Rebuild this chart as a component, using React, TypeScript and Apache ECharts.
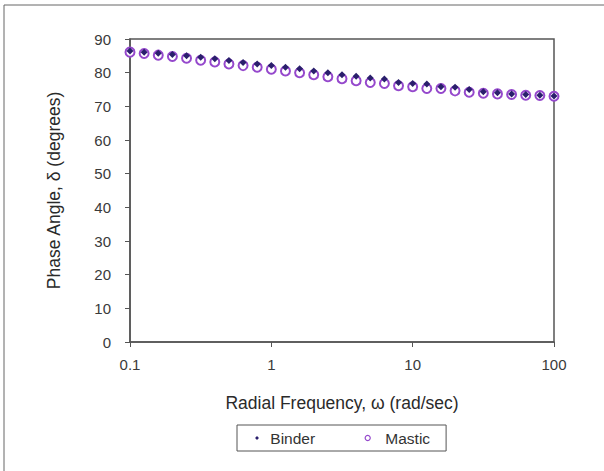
import React, { useEffect, useRef } from "react";
import * as echarts from "echarts";

const frequencies: number[] = [
  0.1, 0.1259, 0.1585, 0.1995, 0.2512, 0.3162, 0.3981, 0.5012, 0.631, 0.7943,
  1, 1.259, 1.585, 1.995, 2.512, 3.162, 3.981, 5.012, 6.31, 7.943,
  10, 12.59, 15.85, 19.95, 25.12, 31.62, 39.81, 50.12, 63.1, 79.43, 100,
];

const binderPhase: number[] = [
  86.4, 86.1, 85.8, 85.4, 85.0, 84.6, 84.1, 83.6, 83.0, 82.6,
  82.1, 81.6, 81.2, 80.5, 80.0, 79.4, 78.9, 78.4, 78.1, 77.1,
  76.8, 76.6, 75.8, 75.7, 75.0, 74.3, 74.0, 73.7, 73.5, 73.3, 73.1,
];

const masticPhase: number[] = [
  86.1, 85.7, 85.2, 84.8, 84.3, 83.7, 83.2, 82.6, 82.1, 81.6,
  81.0, 80.5, 80.0, 79.4, 78.8, 78.2, 77.6, 77.1, 76.8, 76.1,
  75.8, 75.3, 75.3, 74.6, 74.2, 73.9, 73.7, 73.5, 73.3, 73.2, 73.0,
];

const seriesNames = ["Binder", "Mastic"];
const xAxisTitle = "Radial Frequency, ω (rad/sec)";
const yAxisTitle = "Phase Angle, δ (degrees)";

export default function App() {
  const ref = useRef<HTMLDivElement>(null);
  useEffect(() => {
    if (!ref.current) return;
    const chart = echarts.init(ref.current, null, { renderer: "svg" });
    const font = "Liberation Sans, Arial, sans-serif";
    const axisColor = "#555555";
    const binderColor = "#2a1f6c";
    const masticColor = "#9548cc";
    const smallDiamond = "path://M0,0 M10,10 M5,2.6 L7.4,5 L5,7.4 L2.6,5 Z";
    const smallRing = "path://M0,0 M10,10 M5,1.8 A3.2,3.2 0 1 1 4.99,1.8 Z";
    chart.setOption({
      animation: false,
      backgroundColor: "#ffffff",
      textStyle: { fontFamily: font },
      graphic: [
        {
          type: "rect",
          shape: { x: 4, y: 5, width: 800, height: 800 },
          style: { fill: "none", stroke: "#666666", lineWidth: 1 },
          silent: true,
        },
      ],
      grid: {
        left: 130,
        right: 50,
        top: 39,
        bottom: 129,
        show: true,
        borderColor: axisColor,
        borderWidth: 1.5,
        backgroundColor: "transparent",
      },
      legend: {
        data: [
          { name: seriesNames[0], icon: smallDiamond, itemStyle: { color: binderColor, opacity: 1 } },
          { name: seriesNames[1], icon: smallRing, itemStyle: { color: "#ffffff", borderColor: masticColor, borderWidth: 1.2, opacity: 1 } },
        ],
        left: 237,
        top: 425,
        padding: [5, 16, 5, 16],
        itemGap: 48,
        itemWidth: 8,
        itemHeight: 8,
        borderColor: "#555555",
        borderWidth: 1,
        formatter: (name: string) => (name === seriesNames[0] ? " " + name : "  " + name),
        textStyle: { fontSize: 15.5, color: "#333333", fontFamily: font },
      },
      xAxis: {
        type: "log",
        logBase: 10,
        min: 0.1,
        max: 100,
        name: xAxisTitle,
        nameLocation: "middle",
        nameGap: 52,
        nameTextStyle: { fontSize: 17.5, color: "#2a2a2a", fontFamily: font },
        axisLine: { show: true, lineStyle: { color: axisColor, width: 1.5 } },
        axisTick: { show: true, inside: false, length: 5, lineStyle: { color: axisColor } },
        minorTick: { show: false },
        splitLine: { show: false },
        axisLabel: {
          fontSize: 15,
          color: "#3a3a3a",
          margin: 15,
          fontFamily: font,
          formatter: (v: number) => (v < 1 ? String(Math.round(v * 10) / 10) : String(Math.round(v))),
        },
      },
      yAxis: {
        type: "value",
        min: 0,
        max: 90,
        interval: 10,
        name: yAxisTitle,
        nameLocation: "middle",
        nameRotate: 90,
        nameGap: 67,
        nameTextStyle: { fontSize: 17.5, color: "#2a2a2a", fontFamily: font },
        axisLine: { show: true, lineStyle: { color: axisColor, width: 1.5 } },
        axisTick: { show: true, inside: false, length: 5, lineStyle: { color: axisColor } },
        splitLine: { show: false },
        axisLabel: { fontSize: 15, color: "#3a3a3a", margin: 19, fontFamily: font },
      },
      series: [
        {
          name: seriesNames[1],
          type: "scatter",
          symbol: "emptyCircle",
          symbolSize: 9,
          z: 2,
          itemStyle: { color: masticColor, borderColor: masticColor, borderWidth: 1.3, opacity: 1 },
          data: frequencies.map((f, i) => [f, masticPhase[i]]),
        },
        {
          name: seriesNames[0],
          type: "scatter",
          symbol: "diamond",
          symbolSize: 7,
          z: 3,
          itemStyle: { color: binderColor, opacity: 1 },
          data: frequencies.map((f, i) => [f, binderPhase[i]]),
        },
      ],
    });
    return () => chart.dispose();
  }, []);
  return (
    <div
      ref={ref}
      style={{ position: "absolute", left: 0, top: 0, width: 604, height: 471 }}
    />
  );
}
